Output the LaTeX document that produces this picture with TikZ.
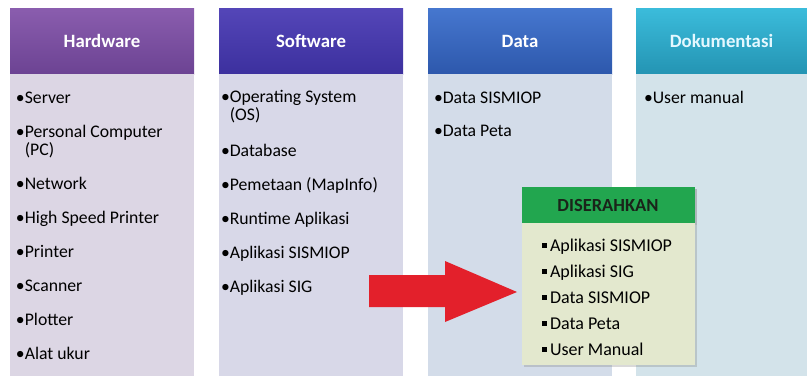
\documentclass[tikz,border=0pt]{standalone}
\usepackage{fontspec}
\setmainfont{Carlito}
\usetikzlibrary{positioning,shadows}

\definecolor{hwtop}{HTML}{8A5DAE}
\definecolor{hwbot}{HTML}{6C4393}
\definecolor{hwfill}{HTML}{DCD6E4}
\definecolor{swtop}{HTML}{5446B8}
\definecolor{swbot}{HTML}{3C309E}
\definecolor{swfill}{HTML}{D8D8E8}
\definecolor{dttop}{HTML}{4677CF}
\definecolor{dtbot}{HTML}{2D58AC}
\definecolor{dtfill}{HTML}{D3DCE9}
\definecolor{dktop}{HTML}{3BBCDB}
\definecolor{dkbot}{HTML}{2494B3}
\definecolor{dkfill}{HTML}{D3E3EA}
\definecolor{dktext}{HTML}{E4F8FF}
\definecolor{greenhead}{HTML}{22A64F}
\definecolor{greenfill}{HTML}{E3E8CE}
\definecolor{darktext}{HTML}{1A241A}
\definecolor{arrowred}{HTML}{E3202B}

\newcommand{\bul}{\textbullet}
\newcommand{\cont}{\phantom{\textbullet}}
\newcommand{\sqbul}{\rule[3.5pt]{5pt}{5pt}\hspace{3pt}}

\tikzset{
  head/.style={minimum height=66pt, inner sep=0pt, text=white,
    font=\fontsize{18.8}{20}\selectfont\bfseries},
  colbody/.style={minimum height=302pt, inner sep=0pt},
  itemlist/.style={align=left, inner sep=0pt,
    font=\fontsize{17.7}{18}\selectfont},
}

\begin{document}
\begin{tikzpicture}[x=1pt,y=-1pt]
\useasboundingbox (0,0) rectangle (807,378);

% column headers
\node[head, minimum width=184pt, top color=hwtop, bottom color=hwbot] (hw) at (102,41) {Hardware};
\node[head, minimum width=184pt, top color=swtop, bottom color=swbot] (sw) at (311,41) {Software};
\node[head, minimum width=184pt, top color=dttop, bottom color=dtbot] (dt) at (520,41) {Data};
\node[head, minimum width=171pt, top color=dktop, bottom color=dkbot, text=dktext] (dk) at (721.5,41) {Dokumentasi};

% column bodies
\node[colbody, minimum width=184pt, fill=hwfill, below=0pt of hw] (hwb) {};
\node[colbody, minimum width=184pt, fill=swfill, below=0pt of sw] (swb) {};
\node[colbody, minimum width=184pt, fill=dtfill, below=0pt of dt] (dtb) {};
\node[colbody, minimum width=171pt, fill=dkfill, below=0pt of dk] (dkb) {};

% lists
\node[itemlist, below right=17.5pt and 6pt of hwb.north west] (hwlist) {%
  \bul Server\\[16pt]
  \bul Personal Computer\\ \cont(PC)\\[16pt]
  \bul Network\\[16pt]
  \bul High Speed Printer\\[16pt]
  \bul Printer\\[16pt]
  \bul Scanner\\[16pt]
  \bul Plotter\\[16pt]
  \bul Alat ukur};
\node[itemlist, below right=15.5pt and 2pt of swb.north west] (swlist) {%
  \bul Operating System\\ \cont(OS)\\[18pt]
  \bul Database\\[16pt]
  \bul Pemetaan (MapInfo)\\[16pt]
  \bul Runtime Aplikasi\\[16pt]
  \bul Aplikasi SISMIOP\\[16pt]
  \bul Aplikasi SIG};
\node[itemlist, below right=17.5pt and 6pt of dtb.north west] (dtlist) {%
  \bul Data SISMIOP\\[15pt]
  \bul Data Peta};
\node[itemlist, below right=17pt and 8pt of dkb.north west] (dklist) {%
  \bul User manual};

% handed over
\node[minimum width=173pt, minimum height=36pt, inner sep=0pt, fill=greenhead,
  text=darktext, font=\fontsize{18.5}{20}\selectfont\bfseries,
  drop shadow={shadow xshift=2pt, shadow yshift=-2pt, opacity=.45}] (dis) at (608,205) {DISERAHKAN};
\node[minimum width=173pt, minimum height=142pt, inner sep=0pt, fill=greenfill,
  drop shadow={shadow xshift=2pt, shadow yshift=-2pt, opacity=.3},
  below=0pt of dis] (disb) {};
\node[align=left, inner sep=0pt, font=\fontsize{18}{26}\selectfont,
  below right=15.5pt and 20.5pt of disb.north west] (dislist) {%
  \sqbul Aplikasi SISMIOP\\
  \sqbul Aplikasi SIG\\
  \sqbul Data SISMIOP\\
  \sqbul Data Peta\\
  \sqbul User Manual};

% red arrow
\fill[arrowred] (369,275) -- (445,275) -- (445,261) -- (517,292)
  -- (445,322) -- (445,307) -- (369,307) -- cycle;
\end{tikzpicture}
\end{document}
